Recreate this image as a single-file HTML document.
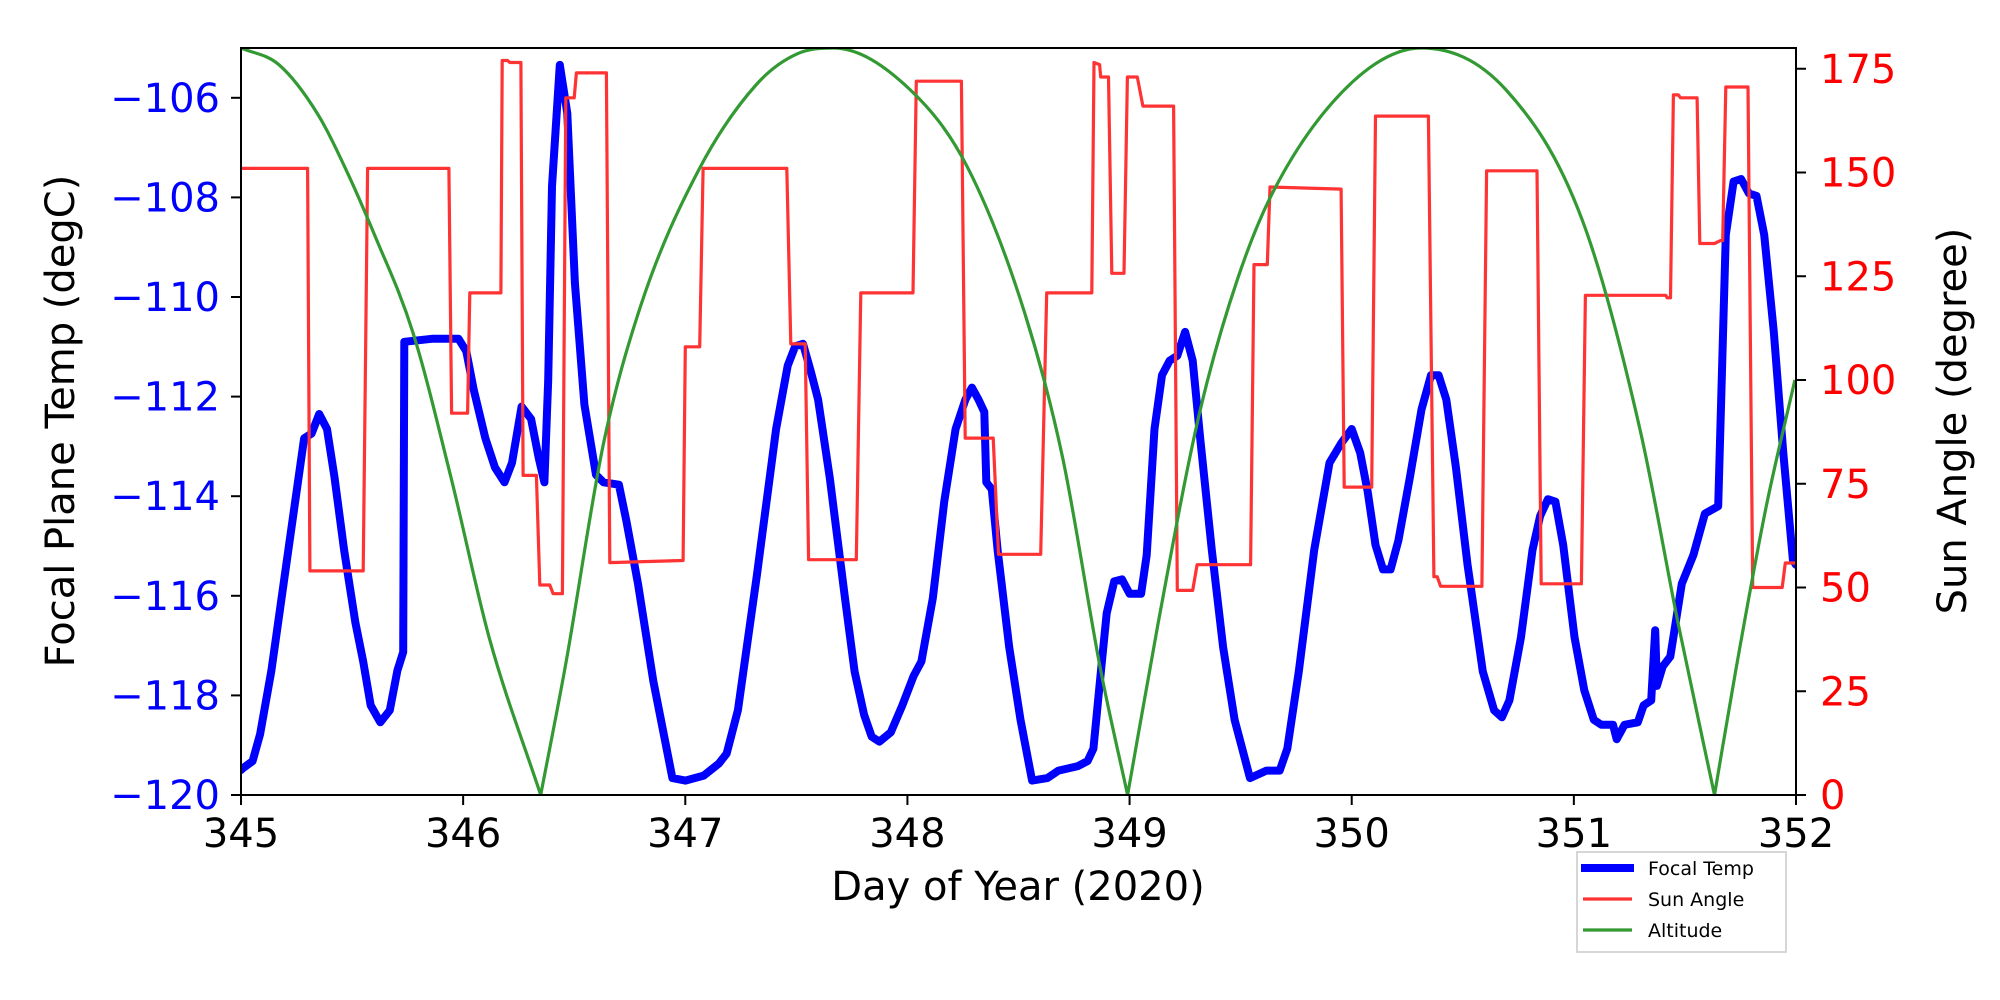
<!DOCTYPE html>
<html><head><meta charset="utf-8"><style>
html,body{margin:0;padding:0;background:#fff;}
svg{display:block;font-family:"DejaVu Sans","Liberation Sans",sans-serif;}
</style></head><body>
<svg id="chart" width="2000" height="1000" viewBox="0 0 2000 1000">
<rect width="2000" height="1000" fill="#fff"/>
<g id="plot"></g>
<g id="axes"></g>
</svg>
<script>
const tempTimes=[345.0,345.009,345.052,345.086,345.137,345.206,345.284,345.318,345.352,345.387,345.421,345.464,345.515,345.55,345.584,345.627,345.67,345.704,345.73,345.735,345.859,345.979,346.014,346.048,346.1,346.143,346.186,346.22,346.263,346.306,346.34,346.366,346.383,346.4,346.435,346.469,346.503,346.546,346.598,346.632,346.701,346.735,346.787,346.856,346.942,347.0,347.083,347.151,347.186,347.237,347.323,347.409,347.461,347.495,347.53,347.564,347.598,347.65,347.719,347.762,347.805,347.839,347.874,347.925,347.977,348.028,348.063,348.114,348.166,348.217,348.261,348.29,348.32,348.346,348.355,348.38,348.406,348.458,348.509,348.561,348.63,348.68,348.768,348.811,348.837,348.871,348.897,348.931,348.966,349.0,349.052,349.077,349.112,349.146,349.18,349.215,349.25,349.284,349.318,349.37,349.421,349.473,349.542,349.616,349.676,349.71,349.762,349.831,349.9,349.952,350.0,350.038,350.072,350.107,350.141,350.175,350.21,350.262,350.314,350.357,350.391,350.426,350.469,350.521,350.59,350.641,350.676,350.71,350.762,350.814,350.848,350.883,350.917,350.952,351.003,351.047,351.09,351.124,351.176,351.193,351.228,351.288,351.314,351.348,351.366,351.374,351.4,351.434,351.486,351.538,351.59,351.65,351.684,351.719,351.753,351.788,351.822,351.857,351.9,351.943,351.986,352.0];
const tempValues=[-119.5,-119.46,-119.32,-118.78,-117.5,-115.3,-112.84,-112.74,-112.35,-112.65,-113.62,-115.08,-116.54,-117.32,-118.2,-118.54,-118.3,-117.5,-117.13,-110.9,-110.84,-110.84,-111.09,-111.87,-112.84,-113.42,-113.72,-113.33,-112.2,-112.45,-113.23,-113.72,-111.67,-107.78,-105.34,-106.31,-109.72,-112.16,-113.57,-113.72,-113.77,-114.5,-115.76,-117.71,-119.66,-119.71,-119.61,-119.37,-119.17,-118.3,-115.57,-112.65,-111.38,-110.99,-110.94,-111.48,-112.06,-113.62,-116.05,-117.52,-118.39,-118.83,-118.93,-118.74,-118.2,-117.61,-117.32,-116.05,-114.1,-112.65,-112.06,-111.82,-112.06,-112.31,-113.72,-113.86,-115.08,-117.03,-118.49,-119.71,-119.66,-119.51,-119.42,-119.32,-119.07,-117.52,-116.35,-115.71,-115.67,-115.96,-115.96,-115.18,-112.65,-111.57,-111.28,-111.18,-110.7,-111.28,-112.84,-115.08,-117.03,-118.49,-119.66,-119.51,-119.51,-119.07,-117.52,-115.08,-113.33,-112.94,-112.65,-113.13,-113.91,-114.98,-115.47,-115.47,-114.89,-113.62,-112.26,-111.57,-111.57,-112.06,-113.42,-115.37,-117.52,-118.3,-118.44,-118.1,-116.83,-115.08,-114.4,-114.06,-114.11,-114.98,-116.83,-117.9,-118.49,-118.59,-118.59,-118.88,-118.59,-118.54,-118.2,-118.1,-116.69,-117.81,-117.42,-117.22,-115.76,-115.18,-114.35,-114.2,-108.75,-107.68,-107.63,-107.92,-107.97,-108.75,-110.7,-113.13,-115.28,-115.38];
const sunTimes=[345.0,345.30,345.31,345.55,345.57,345.936,345.948,346.02,346.03,346.17,346.176,346.2,346.21,346.26,346.27,346.33,346.345,346.39,346.405,346.447,346.462,346.50,346.51,346.645,346.66,346.99,347.0,347.065,347.08,347.457,347.475,347.54,347.555,347.77,347.79,348.025,348.04,348.243,348.26,348.386,348.41,348.6,348.627,348.83,348.84,348.865,348.87,348.905,348.92,348.975,348.99,349.035,349.06,349.198,349.215,349.284,349.304,349.545,349.56,349.62,349.632,349.952,349.966,350.09,350.107,350.345,350.37,350.385,350.40,350.586,350.607,350.834,350.853,351.034,351.052,351.414,351.42,351.435,351.448,351.47,351.48,351.555,351.567,351.633,351.66,351.67,351.684,351.784,351.805,351.938,351.952,352.0];
const sunValues=[151,151,54,54,151,151,92,92,121,121,177,177,176.5,176.5,77,77,50.6,50.6,48.5,48.5,168,168,174,174,56,56.5,108,108,151,151,108.7,108.7,56.7,56.7,121,121,172,172,86,86,58,58,121,121,176.5,176,173,173,125.7,125.7,173,173,166,166,49.3,49.3,55.5,55.5,127.8,127.8,146.5,146,74.2,74.2,163.6,163.6,52.6,52.6,50.3,50.3,150.4,150.4,50.9,50.9,120.4,120.4,119.8,119.8,168.7,168.7,168,168,132.9,132.9,133.6,133.6,170.6,170.6,50,50,55.9,55.9];
const altTimes=[345.0,345.17,345.344,345.47,345.601,345.773,345.945,346.117,346.349,346.46,346.632,346.804,347.062,347.32,347.5,347.667,348.011,348.269,348.527,348.699,348.871,348.991,349.129,349.314,349.487,349.659,350.003,350.314,350.693,351.038,351.297,351.469,351.633,351.728,351.866,351.995];
const altValues=[180,176,164.2,151,135,111.6,76.6,38,0,31,84.7,118.6,150.8,171.2,178.5,180,170,151.4,116.3,81.2,29.8,0,41.5,91.8,124.5,146.7,171.8,180,170,138.5,88.3,41.5,0,29.8,69.5,100];
const xTicks=[345,346,347,348,349,350,351,352];
const yLeftTicks=[-120,-118,-116,-114,-112,-110,-108,-106];
const yRightTicks=[0,25,50,75,100,125,150,175];

const L=241,R=1796,T=48,B=795;
const xs=t=>L+(t-345)*(R-L)/7;
const yT=v=>B-(v+120)*(B-T)/15;
const yS=v=>B-v*(B-T)/180;
const NS='http://www.w3.org/2000/svg';
const plot=document.getElementById('plot'), axes=document.getElementById('axes');
function mk(tag,attrs,parent){const e=document.createElementNS(NS,tag);for(const k in attrs)e.setAttribute(k,attrs[k]);parent.appendChild(e);return e;}
function pts(ts,vs,f){return ts.map((t,i)=>xs(t).toFixed(1)+','+f(vs[i]).toFixed(1)).join(' ');}
function monoPath(P){
  const n=P.length; if(n<2) return '';
  const d=[],m=[];
  for(let i=0;i<n-1;i++){const dx=P[i+1][0]-P[i][0];d.push(dx?(P[i+1][1]-P[i][1])/dx:0);}
  m[0]=d[0]; m[n-1]=d[n-2];
  for(let i=1;i<n-1;i++){ if(d[i-1]*d[i]<=0) m[i]=0; else { m[i]=(d[i-1]+d[i])/2; const a=m[i]/d[i-1],b=m[i]/d[i],s=a*a+b*b; if(s>9){const tt=3/Math.sqrt(s);m[i]=tt*a*d[i-1];} } }
  let s='M'+P[0][0].toFixed(1)+','+P[0][1].toFixed(1);
  for(let i=0;i<n-1;i++){const h=(P[i+1][0]-P[i][0])/3;
    s+=' C'+(P[i][0]+h).toFixed(1)+','+(P[i][1]+m[i]*h).toFixed(1)+' '+(P[i+1][0]-h).toFixed(1)+','+(P[i+1][1]-m[i+1]*h).toFixed(1)+' '+P[i+1][0].toFixed(1)+','+P[i+1][1].toFixed(1);}
  return s;
}

const cp=mk('clipPath',{id:'clip'},plot);mk('rect',{x:L,y:T,width:R-L,height:B-T},cp);
const g=mk('g',{'clip-path':'url(#clip)'},plot);
const blue=mk('polyline',{points:pts(tempTimes,tempValues,yT),fill:'none',stroke:'#0000ff','stroke-width':8,'stroke-linejoin':'round','stroke-linecap':'round'},g);


const red=mk('polyline',{points:pts(sunTimes,sunValues,yS),fill:'none',stroke:'#ff3333','stroke-width':3.2,'stroke-linejoin':'round'},g);


let segs=[],cur=[];
altTimes.forEach((t,i)=>{const p=[xs(t),yS(altValues[i])];cur.push(p);if(altValues[i]===0&&cur.length>1){segs.push(cur);cur=[p];}});
if(cur.length>1)segs.push(cur);
const green=mk('path',{d:segs.map(monoPath).join(' '),fill:'none',stroke:'#339933','stroke-width':3.2,'stroke-linejoin':'round'},g);



const frame=mk('rect',{x:L,y:T,width:R-L,height:B-T,fill:'none',stroke:'#000','stroke-width':2},axes);


xTicks.forEach(v=>{const x=xs(v);
 mk('line',{x1:x,y1:B,x2:x,y2:B+10,stroke:'#000','stroke-width':2},axes);
 const t=mk('text',{x:x,y:847,'text-anchor':'middle','font-size':40,fill:'#000'},axes);t.textContent=v;
 
 });
yLeftTicks.forEach(v=>{const y=yT(v);
 mk('line',{x1:L-10,y1:y,x2:L,y2:y,stroke:'#000','stroke-width':2},axes);
 const t=mk('text',{x:220,y:y+14,'text-anchor':'end','font-size':40,fill:'#0000ff'},axes);t.textContent=String(v).replace('-','\u2212');
 
 });
yRightTicks.forEach(v=>{const y=yS(v);
 mk('line',{x1:R,y1:y,x2:R+10,y2:y,stroke:'#000','stroke-width':2},axes);
 const t=mk('text',{x:1820,y:y+14,'text-anchor':'start','font-size':40,fill:'#ff0000'},axes);t.textContent=v;
 
 });
</script>
<svg style="position:absolute;left:0;top:0" width="2000" height="1000">
<text x="1018" y="900" text-anchor="middle" font-size="40" font-family="DejaVu Sans,sans-serif">Day of Year (2020)</text>
<text transform="translate(74,421) rotate(-90)" text-anchor="middle" font-size="40" font-family="DejaVu Sans,sans-serif">Focal Plane Temp (degC)</text>
<text transform="translate(1966,421) rotate(-90)" text-anchor="middle" font-size="40" font-family="DejaVu Sans,sans-serif">Sun Angle (degree)</text>
<g font-family="DejaVu Sans,sans-serif" font-size="19">
<rect x="1577" y="852" width="209" height="100" fill="#fff" stroke="#d6d6d6" stroke-width="2"/>
<line x1="1581" y1="868" x2="1634" y2="868" stroke="#0000ff" stroke-width="8"/>
<text x="1648" y="875">Focal Temp</text>
<line x1="1583" y1="899" x2="1632" y2="899" stroke="#ff3333" stroke-width="3.2"/>
<text x="1648" y="906">Sun Angle</text>
<line x1="1583" y1="930" x2="1632" y2="930" stroke="#339933" stroke-width="3.2"/>
<text x="1648" y="937">Altitude</text>
</g>
</svg>
</body></html>
